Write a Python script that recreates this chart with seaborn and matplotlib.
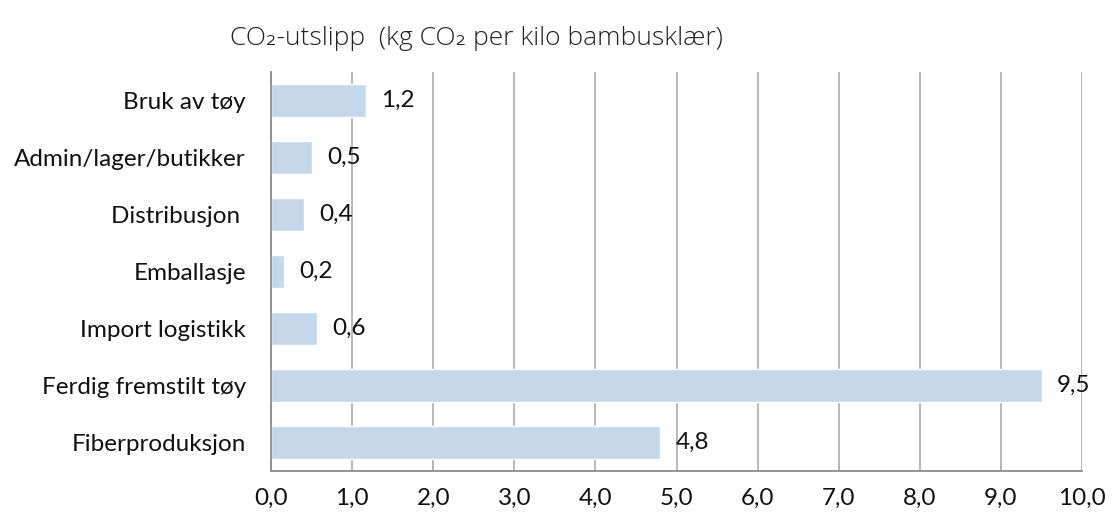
import pandas as pd
import matplotlib.pyplot as plt
import seaborn as sns

# CO2 per kilo bambusklær, by stage
stages = ["Bruk av tøy", "Admin/lager/butikker", "Distribusjon ", "Emballasje",
          "Import logistikk", "Ferdig fremstilt tøy", "Fiberproduksjon"]
co2 = [1.17, 0.5, 0.41, 0.16, 0.57, 9.5, 4.8]
xticks = [0, 1, 2, 3, 4, 5, 6, 7, 8, 9, 10]

df = pd.DataFrame({"Stage": stages, "CO2": co2})

sns.set_style("white")
plt.rcParams['font.family'] = ['Lato', 'DejaVu Sans']

fig = plt.figure(figsize=(11.13, 5.25), dpi=100)
ax = fig.add_axes([0.2435, 0.1029, 0.9722 - 0.2435, 0.8629 - 0.1029])

sns.barplot(data=df, x="CO2", y="Stage", color="#c5d7ea", width=0.58,
            saturation=1, ax=ax, zorder=2)

ax.set_xlim(0, 10)
ax.set_xticks(xticks)
ax.set_xticklabels([("%.1f" % t).replace(".", ",") for t in xticks])
ax.set_xlabel("")
ax.set_ylabel("")
ax.tick_params(axis="both", length=0, labelsize=17.5, colors="#111111")
ax.tick_params(axis="x", pad=12)
ax.tick_params(axis="y", pad=18)

ax.grid(axis="x", color="#b3b3b3", linewidth=1.3, zorder=0)
ax.set_axisbelow(True)
for s in ["top", "right"]:
    ax.spines[s].set_visible(False)
for s in ["left", "bottom"]:
    ax.spines[s].set_color("#8c8c8c")
    ax.spines[s].set_linewidth(1.3)

# value labels with comma decimal
for container in ax.containers:
    ax.bar_label(container, labels=[("%.1f" % v).replace(".", ",") for v in co2],
                 padding=11, fontsize=17.5, color="#111111")

fig.text(0.428, 0.926, "CO₂-utslipp  (kg CO₂ per kilo bambusklær)",
         ha="center", va="center", fontsize=19, color="#222222",
         family=["Open Sans", "DejaVu Sans"], fontweight="light")

fig.savefig("out.png", dpi=100)
